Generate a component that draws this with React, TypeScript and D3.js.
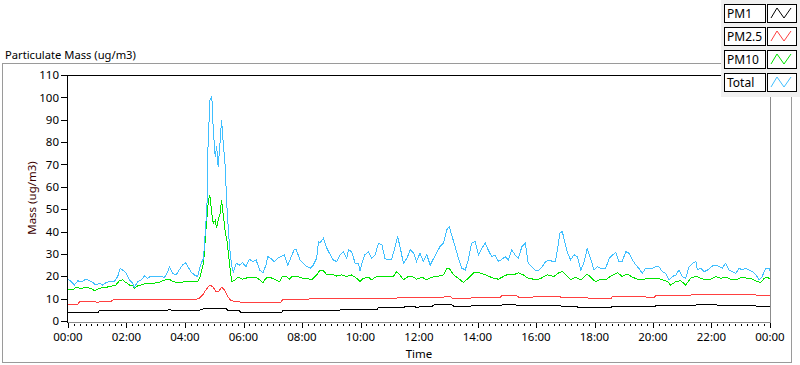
import React from "react";
import * as d3 from "d3";

// ---- data (minutes since 00:00, ug/m3) ----
const TOTAL: [number, number][] = [
  [0, 18.8], [7, 17.5], [13, 16], [20, 18], [27, 17.5], [37, 18.7], [44, 18], [51, 17.2], [57, 16.1],
  [64, 16.9], [71, 16.1], [78, 17.2], [88, 17.9], [95, 17.6], [102, 19.9], [107, 23.6], [112, 22.8],
  [119, 21.6], [126, 18.4], [133, 16.9], [136, 15.1], [143, 17.6], [150, 18.4], [157, 20.1], [163, 19.1],
  [170, 20.1], [177, 19.9], [187, 19.9], [198, 19.6], [205, 22.1], [208, 24.3], [215, 21.3], [222, 20.6],
  [228, 22.8], [235, 25.1], [241, 26.1], [246, 24.3], [252, 22.1], [259, 20.6], [266, 19.9], [273, 25.8],
  [278, 28], [281, 37.7], [285, 51], [287, 76.5], [291, 98.8], [295, 100.3], [298, 85.4], [302, 73.5],
  [305, 78], [308, 69], [312, 80], [315, 90], [319, 78], [322, 70.7], [326, 51], [329, 40.7], [332, 31.8],
  [336, 24.3], [339, 22], [345, 25.8], [352, 25], [358, 26.1], [365, 24.3], [372, 27.6], [379, 26.5],
  [386, 27.3], [393, 22.8], [400, 21.6], [406, 25], [410, 28.8], [416, 28], [423, 26.6], [430, 28],
  [437, 28.8], [444, 29.5], [451, 25], [458, 28.8], [464, 31.8], [468, 32], [476, 27.3], [483, 25.8],
  [490, 24.3], [497, 23.6], [503, 25], [510, 28], [514, 35.5], [517, 35], [524, 37], [527, 34.8],
  [531, 32.5], [538, 29.6], [544, 27.3], [551, 26.6], [558, 29.6], [565, 31], [572, 28], [575, 31.8],
  [582, 31], [589, 25.8], [596, 25.5], [599, 22.5], [603, 25.8], [609, 29.6], [616, 31], [623, 28],
  [630, 29.6], [637, 34.8], [644, 34], [650, 28], [657, 27.3], [664, 27.6], [671, 33.3], [676, 37.8],
  [681, 33.3], [688, 25.8], [695, 28], [702, 31.8], [709, 30.3], [715, 26.6], [722, 30.3], [729, 26.6],
  [736, 29.6], [743, 25], [750, 28], [756, 30.3], [763, 33.3], [770, 34.8], [777, 40.7], [782, 42.2],
  [787, 38.5], [794, 33.3], [801, 28], [808, 23.6], [815, 22.8], [821, 27.3], [828, 34.8], [835, 35.5],
  [842, 29.6], [849, 32.5], [856, 34.8], [862, 31.8], [869, 28.8], [876, 29.6], [883, 26.6], [890, 27.6],
  [897, 28.8], [903, 27.3], [910, 31.8], [917, 29.6], [924, 28], [931, 33.3], [938, 34.8], [944, 25.8],
  [951, 24.3], [958, 22.8], [966, 22.8], [973, 24.3], [980, 26.6], [987, 27.3], [994, 26.6], [1000, 26.6],
  [1005, 33.3], [1009, 39.3], [1014, 40], [1018, 36.3], [1024, 31], [1031, 27.3], [1038, 29.6],
  [1045, 28.8], [1052, 22.8], [1059, 26.6], [1065, 32.5], [1072, 28], [1079, 22.8], [1086, 24.3],
  [1093, 23.6], [1103, 23.6], [1110, 28], [1117, 29.6], [1124, 30.6], [1130, 26.6], [1137, 26.6],
  [1144, 31], [1151, 30.3], [1158, 27.3], [1165, 25], [1171, 23.6], [1178, 21.3], [1185, 23.6],
  [1192, 23.6], [1199, 23.6], [1206, 24.3], [1212, 24.3], [1219, 22.1], [1226, 21.3], [1233, 18.4],
  [1240, 19.9], [1247, 20.6], [1253, 22.8], [1260, 19.9], [1267, 19.1], [1274, 24.3], [1281, 25.8],
  [1288, 26.6], [1291, 22.8], [1298, 23.6], [1305, 22.1], [1312, 22.8], [1322, 24.6], [1329, 25],
  [1336, 24.3], [1342, 23.6], [1349, 25.8], [1356, 22.8], [1363, 22.1], [1370, 21.3], [1377, 23.6],
  [1383, 22.8], [1390, 23.6], [1397, 22.8], [1404, 22.1], [1411, 20.6], [1418, 18.4], [1424, 19.9],
  [1431, 23.6], [1438, 23.6], [1440, 22.5],
];

const PM10: [number, number][] = [
  [0, 14.2], [10, 13.9], [16, 15], [27, 14.6], [37, 15], [47, 14.6], [54, 13.6], [61, 14.2], [71, 15],
  [81, 15.2], [92, 15.7], [98, 16.1], [105, 17.9], [112, 18.4], [119, 17.2], [126, 16.1], [133, 15.7],
  [136, 14.6], [143, 15.7], [150, 16.1], [160, 16.9], [174, 16.9], [187, 17.2], [194, 18], [201, 18.4],
  [208, 18.7], [215, 17.6], [228, 17.2], [242, 17.6], [256, 17.6], [266, 17.6], [271, 19.8], [278, 25.8],
  [283, 40.7], [288, 54], [291, 56.3], [295, 48], [298, 43.7], [302, 45], [305, 41.5], [308, 45],
  [312, 48], [315, 54], [319, 46.6], [322, 40.7], [326, 36], [329, 30.3], [332, 24.3], [336, 17.6],
  [343, 18.3], [349, 19.6], [358, 18.7], [372, 19.6], [386, 19.6], [393, 18.4], [400, 17.2], [406, 19.1],
  [410, 19.6], [420, 19.1], [434, 17.6], [440, 19.9], [447, 20.1], [454, 18.7], [461, 20.1], [471, 19.9],
  [481, 19.1], [490, 19.1], [500, 18.4], [510, 20.6], [517, 22.8], [524, 22.5], [531, 20.6], [541, 21],
  [551, 20.1], [561, 20.6], [572, 19.9], [582, 20.6], [592, 19.1], [599, 17.6], [606, 19.1], [616, 19.6],
  [623, 18.4], [630, 19.6], [640, 20.1], [654, 19.9], [668, 20.1], [674, 22.1], [681, 20.6], [688, 18.4],
  [695, 19.6], [705, 20.1], [715, 18.7], [726, 19.6], [736, 18.4], [746, 19.6], [760, 20.1], [770, 20.6],
  [777, 23.6], [782, 23.6], [791, 20.6], [801, 19.1], [811, 17.2], [821, 19.1], [832, 21.6], [842, 21.6],
  [852, 21], [862, 20.1], [873, 19.1], [883, 18.7], [893, 19.9], [900, 20.6], [914, 20.6], [924, 21.6],
  [934, 20.6], [944, 19.1], [955, 18.7], [965, 18.7], [970, 19.1], [983, 20.6], [997, 19.9], [1007, 21.6],
  [1014, 22.1], [1021, 20.6], [1031, 18.4], [1041, 19.6], [1052, 18.4], [1065, 21], [1072, 19.6],
  [1082, 17.6], [1093, 18.7], [1103, 18.4], [1113, 20.1], [1127, 21.6], [1137, 19.9], [1147, 21],
  [1158, 19.6], [1168, 18.7], [1182, 18.7], [1195, 19.1], [1209, 19.1], [1219, 18.4], [1230, 17.6],
  [1236, 16.1], [1247, 17.6], [1257, 18], [1267, 16.1], [1277, 19.1], [1288, 20.1], [1298, 19.1],
  [1308, 18.4], [1318, 18.7], [1329, 19.9], [1339, 19.1], [1349, 19.6], [1359, 18.7], [1373, 18.7],
  [1383, 19.6], [1394, 19.1], [1404, 18.7], [1414, 17.6], [1421, 17.2], [1428, 19.1], [1435, 19.6],
  [1440, 18.7],
];

const PM25: [number, number][] = [
  [0, 7.5], [20, 7.5], [24, 8.7], [56, 8.7], [60, 8.3], [66, 8.7], [88, 8.7], [92, 9.4], [153, 9.4],
  [158, 9.6], [262, 9.6], [270, 10.3], [276, 11.6], [283, 13.9], [291, 16.1], [297, 15.3], [304, 13.1],
  [309, 13.3], [315, 15.1], [321, 14], [328, 10.9], [334, 9.1], [345, 8.7], [362, 8.2], [436, 8.2],
  [440, 9.4], [490, 9.4], [495, 9.9], [606, 9.9], [612, 10.1], [672, 10.1], [675, 10.3], [724, 10.3],
  [727, 10.6], [771, 10.6], [774, 11], [785, 11], [788, 10.1], [826, 10.1], [829, 10.6], [887, 10.6],
  [890, 11.3], [921, 11.3], [924, 10.7], [954, 10.7], [957, 11], [1008, 11], [1011, 10.6], [1065, 10.6],
  [1069, 9.9], [1083, 9.9], [1086, 10.1], [1114, 10.1], [1117, 11], [1183, 11], [1186, 10.6],
  [1203, 10.6], [1206, 11.6], [1278, 11.6], [1281, 11.9], [1410, 11.9], [1413, 11.3], [1440, 11.3],
];

const PM1: [number, number][] = [
  [0, 3.7], [61, 3.7], [64, 4.5], [86, 4.5], [89, 4.9], [135, 4.9], [137, 4.5], [140, 4.9], [205, 4.9],
  [208, 5.2], [212, 4.9], [270, 4.9], [278, 5.4], [283, 5.7], [324, 5.7], [328, 4.8], [350, 4.8],
  [354, 3.9], [438, 3.9], [442, 4.9], [493, 4.9], [494, 4.5], [497, 4.9], [558, 4.9], [561, 5.2],
  [634, 5.2], [637, 6], [689, 6], [692, 6.7], [711, 6.7], [713, 6.1], [720, 6.1], [722, 6.7], [748, 6.7],
  [751, 7.2], [788, 7.2], [791, 6.7], [826, 6.7], [829, 7], [888, 7], [891, 7.2], [1008, 7], [1011, 6.7],
  [1043, 6.7], [1046, 6.1], [1114, 6.1], [1117, 6.6], [1183, 6.6], [1186, 6.3], [1203, 6.3], [1206, 7],
  [1286, 7], [1288, 7.2], [1330, 7.2], [1333, 7], [1408, 7], [1411, 6.7], [1440, 6.7],
];

const SERIES_NAMES = ["PM1", "PM2.5", "PM10", "Total"];
const SERIES_DATA = [PM1, PM25, PM10, TOTAL];
const SERIES_COLORS = ["#000000", "#ff4040", "#00e600", "#40bfff"];

const X_TICKS = [0, 120, 240, 360, 480, 600, 720, 840, 960, 1080, 1200, 1320, 1440];
const X_LABELS = ["00:00", "02:00", "04:00", "06:00", "08:00", "10:00", "12:00", "14:00", "16:00", "18:00", "20:00", "22:00", "00:00"];
const Y_TICKS = [0, 10, 20, 30, 40, 50, 60, 70, 80, 90, 100, 110];

const FONT = "'Noto Sans', 'Liberation Sans', sans-serif";

export default function App() {
  const W = 800, H = 365;
  const L = 68, R = 770, T = 75, B = 321;
  const x = d3.scaleLinear().domain([0, 1440]).range([L, R]);
  const y = d3.scaleLinear().domain([0, 110]).range([B, T]);
  const line = d3.line<[number, number]>().x(d => x(d[0])).y(d => y(d[1]));
  const minorTicks = d3.range(0, 1441, 12).filter(t => t % 120 !== 0);

  return (
    <div style={{ position: "fixed", left: 0, top: 0, width: W, height: H, background: "#fff" }}>
      <svg width={W} height={H} style={{ display: "block", fontFamily: FONT }}>
        <rect x={0} y={0} width={W} height={H} fill="#ffffff" />
        {/* outer frame */}
        <rect x={2.5} y={63.5} width={789} height={299} fill="none" stroke="#9a9a9a" />
        <text x={5} y={59} fontSize={11.2} fill="#000">Particulate Mass (ug/m3)</text>

        {/* plot area */}
        <rect x={L} y={T} width={R - L} height={B - T + 1} fill="#ffffff" />
        <clipPath id="clip"><rect x={L} y={T} width={R - L} height={B - T + 1} /></clipPath>
        <g clipPath="url(#clip)">
          {SERIES_DATA.map((s, i) => (
            <path key={i} d={line(s) || ""} fill="none" stroke={SERIES_COLORS[i]} strokeWidth={1}
              shapeRendering="crispEdges" />
          ))}
        </g>
        <line x1={L} x2={R} y1={T + 0.5} y2={T + 0.5} stroke="#000" />
        <line x1={R + 0.5} x2={R + 0.5} y1={T} y2={B + 1} stroke="#8c8c8c" />
        <line x1={L} x2={R + 1} y1={B + 1.5} y2={B + 1.5} stroke="#8c8c8c" />
        <line x1={L - 0.5} x2={L - 0.5} y1={T} y2={B + 2} stroke="#000" />

        {/* y axis */}
        {Y_TICKS.map(v => (
          <g key={v}>
            <line x1={L - 7} x2={L - 1} y1={Math.round(y(v)) + 0.5} y2={Math.round(y(v)) + 0.5} stroke="#000" />
            <text x={L - 9} y={y(v) + 4.2} fontSize={11.5} textAnchor="end" fill="#000">{v}</text>
          </g>
        ))}
        <text transform={`translate(36,${(T + B) / 2}) rotate(-90)`} fontSize={11.5} textAnchor="middle" fill="#3c0000">Mass (ug/m3)</text>

        {/* x axis */}
        {minorTicks.map(t => (
          <line key={t} x1={Math.round(x(t)) + 0.5} x2={Math.round(x(t)) + 0.5} y1={B + 3} y2={B + 5} stroke="#000" />
        ))}
        {X_TICKS.map((t, i) => (
          <g key={i}>
            <line x1={Math.round(x(t)) + 0.5} x2={Math.round(x(t)) + 0.5} y1={B + 2} y2={B + 7} stroke="#000" />
            <text x={x(t)} y={B + 20} fontSize={11.5} textAnchor="middle" fill="#000">{X_LABELS[i]}</text>
          </g>
        ))}
        <text x={(L + R) / 2} y={B + 37} fontSize={11.5} textAnchor="middle" fill="#000">Time</text>

        {/* legend */}
        <rect x={721} y={0} width={79} height={97} fill="#f0f0f0" />
        {SERIES_NAMES.map((n, i) => {
          const ry = 4 + i * 23;
          return (
            <g key={n}>
              <rect x={724.5} y={ry + 0.5} width={41} height={18} fill="#fff" stroke="#000" />
              <text x={727} y={ry + 14} fontSize={12} fill="#000">{n}</text>
              <rect x={767.5} y={ry + 0.5} width={29} height={18} fill="#fff" stroke="#000" />
              <polyline points={`${771},${ry + 14} ${777},${ry + 4} ${784},${ry + 14} ${791},${ry + 4}`}
                fill="none" stroke={SERIES_COLORS[i]} strokeWidth={1} />
            </g>
          );
        })}
      </svg>
    </div>
  );
}
